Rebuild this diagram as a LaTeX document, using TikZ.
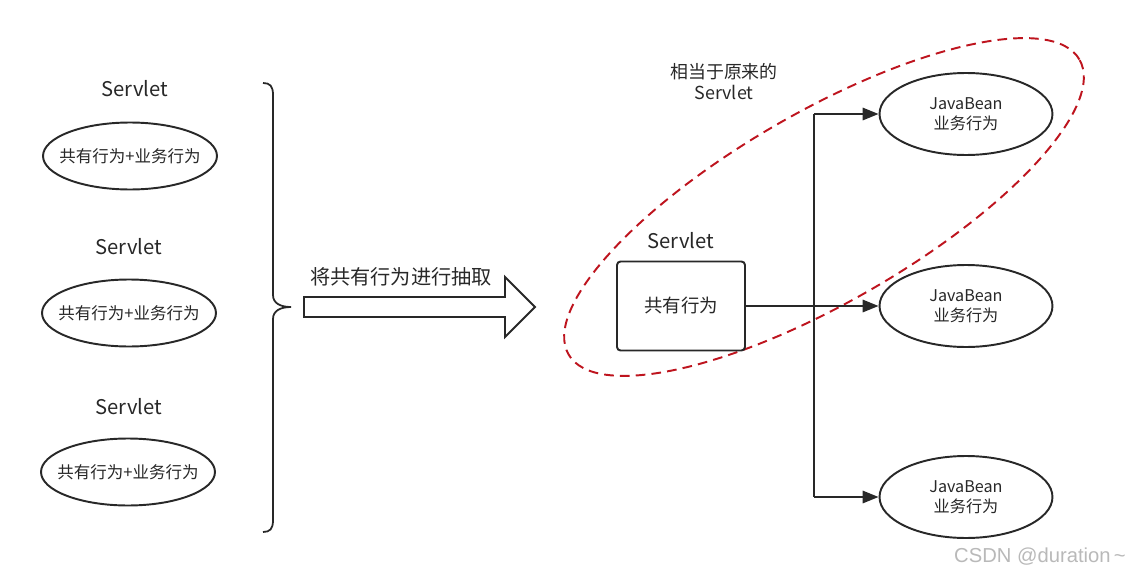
\documentclass[tikz,border=0pt]{standalone}
\usepackage{fontspec}
\setmainfont{Noto Sans CJK SC}
\newfontfamily\wmfont{Liberation Sans}
\usetikzlibrary{arrows.meta,shapes.geometric,positioning}
\definecolor{ink}{RGB}{40,40,40}
\definecolor{ringred}{RGB}{190,20,30}
\tikzset{>={Triangle[length=9pt,width=7pt]},every node/.style={font=\fontsize{9.4}{11}\selectfont,text=ink},
 oldsv/.style={draw=ink,line width=1.1pt,ellipse,minimum width=3.48cm,minimum height=1.34cm,inner xsep=-0.2cm,inner ysep=0pt},
 bean/.style={draw=ink,line width=1.1pt,ellipse,minimum width=3.46cm,minimum height=1.64cm,inner sep=0pt,align=center,font=\fontsize{9.2}{11.3}\selectfont},
 core/.style={draw=ink,line width=1.1pt,rounded corners=2pt,minimum width=2.56cm,minimum height=1.78cm,font=\fontsize{10.5}{12}\selectfont},
 ttl/.style={font=\fontsize{11.5}{13}\selectfont},
 flow/.style={line width=1.1pt,draw=ink,->},edge/.style={line width=1.1pt,draw=ink},
 ring/.style={draw=ringred,line width=1.1pt,dash pattern=on 5.5pt off 3.5pt,ellipse,minimum width=11.8cm,minimum height=3.8cm,rotate=30}}

\begin{document}
\begin{tikzpicture}[x=0.02cm,y=-0.02cm]
\path[fill=white,use as bounding box] (0,0) rectangle (1137,578);
% the three old servlets
\node[ttl] (t1) at (135,89){Servlet};
\node[oldsv] (s1) at (130,156){共有行为+业务行为};
\node[ttl] (t2) at (129,247){Servlet};
\node[oldsv] (s2) at (129,313){共有行为+业务行为};
\node[ttl] (t3) at (129,407){Servlet};
\node[oldsv] (s3) at (128,472){共有行为+业务行为};
\draw[edge,line width=1pt] (263,83) .. controls (270,83) and (273,86) .. (273,95) -- (273,295)
 .. controls (273,303) and (280,307) .. (291,307) .. controls (280,307) and (273,311) .. (273,319)
 -- (273,520) .. controls (273,529) and (270,532) .. (263,532);
% big arrow
\draw[edge,fill=white] (304,297) -- (505,297) -- (505,277) -- (535,307) -- (505,337) -- (505,317) -- (304,317) -- cycle;
\node[ttl] (lab) at (401,277){将共有行为进行抽取};
% new servlet
\node[ring] (grp) at (824,207){};
\node[font=\fontsize{10.2}{12}\selectfont,align=center] (note) at (724,82){相当于原来的\\Servlet};
\node[ttl] (t4) at (681,241){Servlet};
\node[core] (c) at (681,306){共有行为};
\node[bean] (b1) at (966,114){JavaBean\\业务行为};
\node[bean] (b2) at (966,306){JavaBean\\业务行为};
\node[bean] (b3) at (966,497){JavaBean\\业务行为};
\coordinate (trunk) at (814,306);
\draw[edge] (trunk |- b1.west) -- (trunk |- b3.west);
\draw[flow] (trunk |- b1.west) -- (b1.west);
\draw[flow] (c.east) -- (b2.west);
\draw[flow] (trunk |- b3.west) -- (b3.west);
\node[anchor=east,text=gray!55,font=\wmfont\fontsize{11.5}{13}\selectfont] (wm) at (1132,557){CSDN @duration\,\textasciitilde};
\end{tikzpicture}
\end{document}
